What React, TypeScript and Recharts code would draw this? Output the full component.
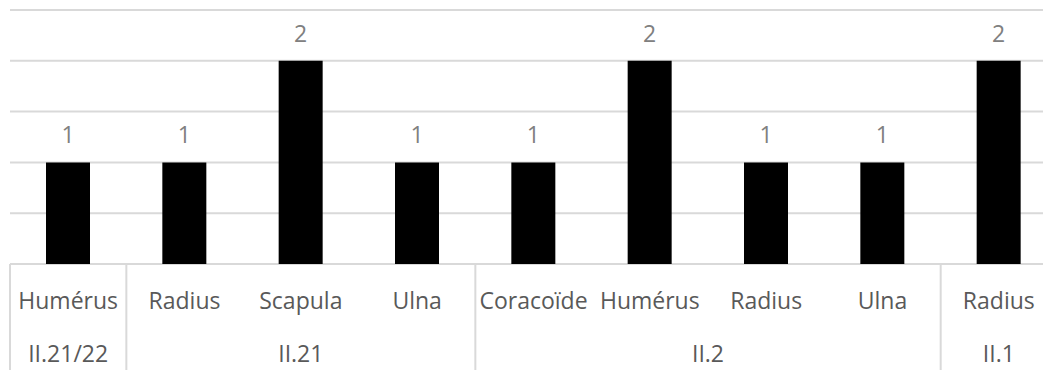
import { BarChart, Bar, XAxis, YAxis, CartesianGrid, LabelList } from "recharts";

const categories = ["Humérus", "Radius", "Scapula", "Ulna", "Coracoïde", "Humérus", "Radius", "Ulna", "Radius"];
const groups = ["II.21/22", "II.21", "II.21", "II.21", "II.2", "II.2", "II.2", "II.2", "II.1"];
const counts = [1, 1, 2, 1, 1, 2, 1, 1, 2];
const yTicks = [0, 0.5, 1, 1.5, 2, 2.5];

const data = categories.map((name, i) => ({ key: `c${i}`, name, group: groups[i], value: counts[i] }));

const CHART_W = 1057;
const CHART_H = 370;
const MARGIN = { top: 10, right: 0, bottom: 0, left: 10 };
const BAND = (CHART_W - MARGIN.left - MARGIN.right) / data.length;

const font = "'Open Sans', sans-serif";
const labelColor = "#595959";
const gridColor = "#d9d9d9";

const CategoryTick = ({ x, y, payload }: any) => {
  const i = payload.index;
  const d = data[i];
  const isGroupStart = i === 0 || data[i - 1].group !== d.group;
  let n = 0;
  if (isGroupStart) {
    while (i + n < data.length && data[i + n].group === d.group) n++;
  }
  return (
    <g>
      <text x={x} y={y + 45} textAnchor="middle" fill={labelColor} fontSize={23} fontFamily={font}>
        {d.name}
      </text>
      {isGroupStart && (
        <>
          <line x1={x - BAND / 2} x2={x - BAND / 2} y1={y} y2={y + 110} stroke={gridColor} strokeWidth={2} />
          <text
            x={x + ((n - 1) * BAND) / 2}
            y={y + 98}
            textAnchor="middle"
            fill={labelColor}
            fontSize={23}
            fontFamily={font}
          >
            {d.group}
          </text>
        </>
      )}
    </g>
  );
};

export default function App() {
  return (
    <div style={{ position: "absolute", left: 0, top: 0, width: 1043, height: 370, overflow: "hidden", background: "#fff" }}>
      <BarChart width={CHART_W} height={CHART_H} data={data} margin={MARGIN} barCategoryGap={0}>
        <CartesianGrid vertical={false} stroke={gridColor} strokeWidth={2} />
        <XAxis
          dataKey="key"
          height={106}
          axisLine={false}
          tickLine={false}
          tickSize={0}
          tickMargin={0}
          interval={0}
          tick={<CategoryTick />}
        />
        <YAxis hide domain={[0, 2.5]} ticks={yTicks} />
        <Bar dataKey="value" fill="#000000" barSize={44} isAnimationActive={false}>
          <LabelList
            dataKey="value"
            position="top"
            offset={19}
            style={{ fontSize: 23, fill: "#808080", fontFamily: font }}
          />
        </Bar>
      </BarChart>
    </div>
  );
}
